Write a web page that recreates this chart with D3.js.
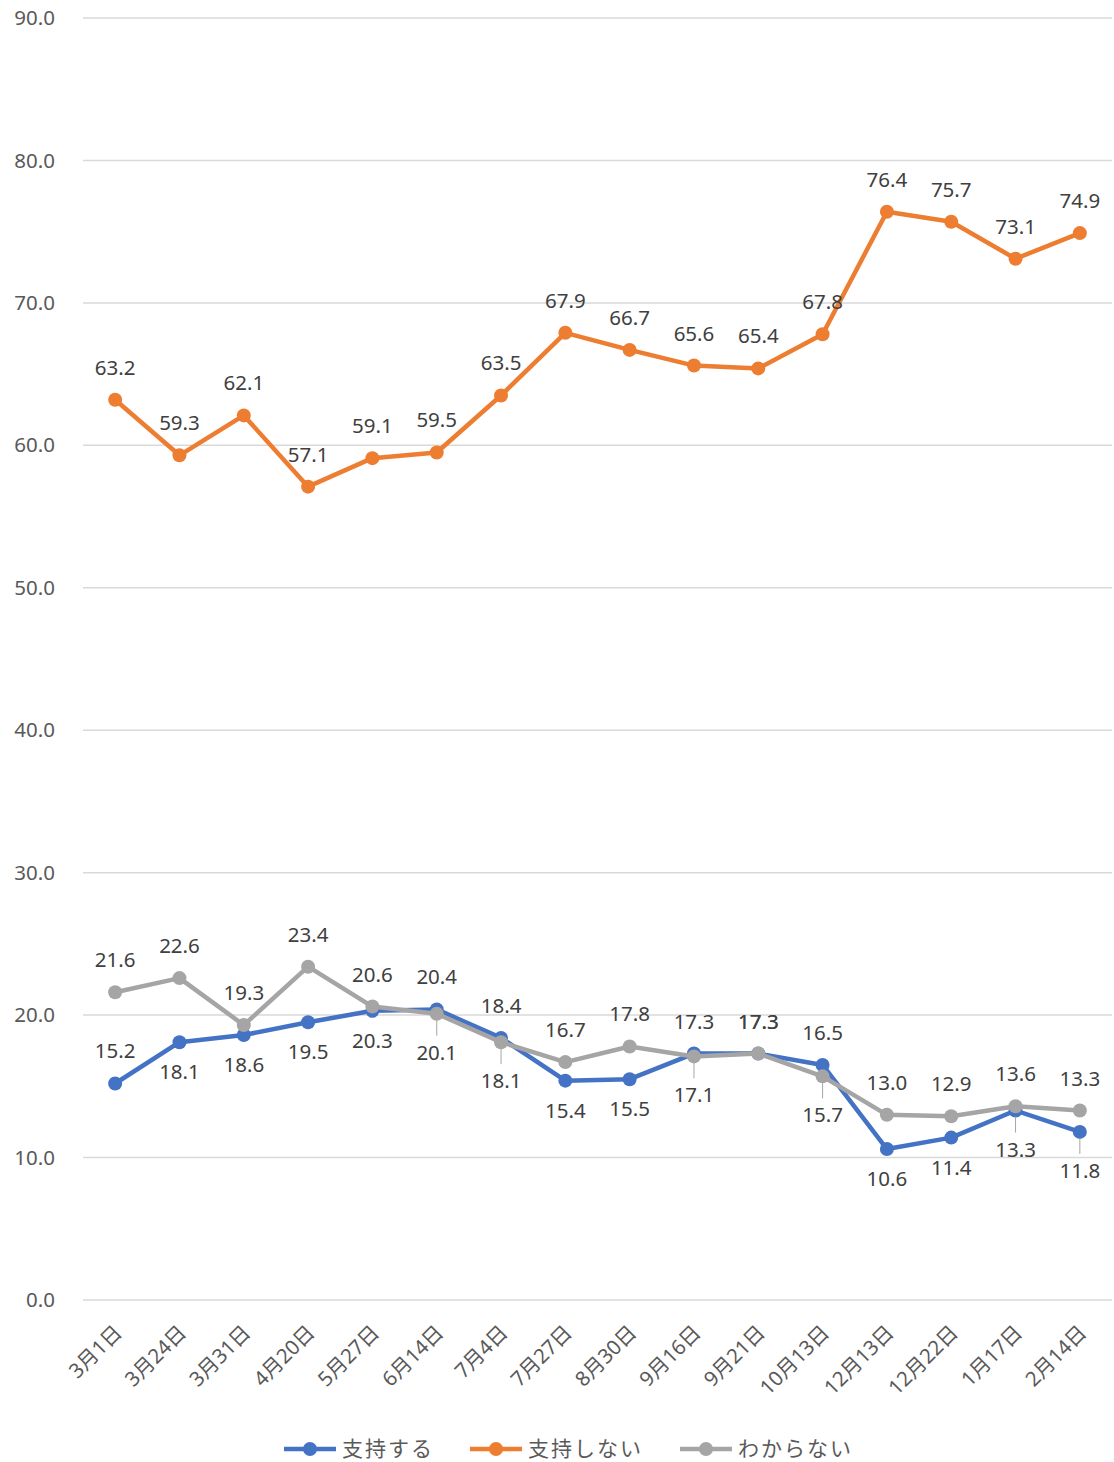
<!DOCTYPE html>
<html>
<head>
<meta charset="utf-8">
<script src="https://cdn.jsdelivr.net/npm/d3@7"></script>
<style>
  body { margin: 0; background: #fff; }
  text { font-family: "Noto Sans", "Noto Sans CJK JP", sans-serif; }
</style>
</head>
<body>
<div id="chart"></div>
<script>
// data
var dates = ["3月1日", "3月24日", "3月31日", "4月20日", "5月27日", "6月14日", "7月4日", "7月27日",
  "8月30日", "9月16日", "9月21日", "10月13日", "12月13日", "12月22日", "1月17日", "2月14日"];
var seriesNames = ["支持する", "支持しない", "わからない"];
var support = [15.2, 18.1, 18.6, 19.5, 20.3, 20.4, 18.4, 15.4, 15.5, 17.3, 17.3, 16.5, 10.6, 11.4, 13.3, 11.8];
var notSupport = [63.2, 59.3, 62.1, 57.1, 59.1, 59.5, 63.5, 67.9, 66.7, 65.6, 65.4, 67.8, 76.4, 75.7, 73.1, 74.9];
var unknown = [21.6, 22.6, 19.3, 23.4, 20.6, 20.1, 18.1, 16.7, 17.8, 17.1, 17.3, 15.7, 13.0, 12.9, 13.6, 13.3];
var yTicks = [0, 10, 20, 30, 40, 50, 60, 70, 80, 90];

// label placement: 1 = above, -1 = below (2 = below with leader line)
var supportPos = [1, -1, -1, -1, -1, 1, 1, -1, -1, 1, 1, 1, -1, -1, 2, 2];
var notSupportPos = [1, 1, 1, 1, 1, 1, 1, 1, 1, 1, 1, 1, 1, 1, 1, 1];
var unknownPos = [1, 1, 1, 1, 1, 2, 2, 1, 1, 2, 1, 2, 1, 1, 1, 1];

var colors = ["#4472C4", "#ED7D31", "#A5A5A5"];

var svgWidth = 1114;
var svgHeight = 1462;
var margin = { top: 18, right: 2, bottom: 162, left: 83 };
var width = svgWidth - margin.left - margin.right;
var height = svgHeight - margin.top - margin.bottom;

var svg = d3.select("#chart")
  .append("svg")
  .attr("width", svgWidth)
  .attr("height", svgHeight);

var chartGroup = svg.append("g")
  .attr("transform", `translate(${margin.left}, ${margin.top})`);

var xScale = d3.scaleBand()
  .domain(dates)
  .range([0, width]);

var yScale = d3.scaleLinear()
  .domain([0, 90])
  .range([height, 0]);

// gridlines
chartGroup.selectAll(".grid")
  .data(yTicks)
  .enter()
  .append("line")
  .attr("x1", 0)
  .attr("x2", width)
  .attr("y1", d => yScale(d))
  .attr("y2", d => yScale(d))
  .attr("stroke", "#d9d9d9")
  .attr("stroke-width", 1.5);

// y axis labels
var leftAxis = d3.axisLeft(yScale)
  .tickValues(yTicks)
  .tickFormat(d3.format(".1f"))
  .tickSize(0)
  .tickPadding(28);

var yAxisG = chartGroup.append("g").call(leftAxis);
yAxisG.select(".domain").remove();
yAxisG.selectAll("text")
  .attr("font-size", "20.5px")
  .attr("fill", "#595959")
  .style("font-family", "'Noto Sans', sans-serif");

// x axis labels
var bottomAxis = d3.axisBottom(xScale).tickSize(0).tickPadding(0);
var xAxisG = chartGroup.append("g")
  .attr("transform", `translate(0, ${height})`)
  .call(bottomAxis);
xAxisG.select(".domain").remove();
xAxisG.selectAll("text")
  .attr("font-size", "20.5px")
  .attr("fill", "#595959")
  .attr("text-anchor", "end")
  .attr("dy", "0")
  .attr("y", 0)
  .attr("transform", "translate(8, 34) rotate(-45)")
  .style("font-family", "'Noto Sans', 'Noto Sans CJK JP', sans-serif");

var allSeries = [
  { name: seriesNames[0], values: support, pos: supportPos, color: colors[0] },
  { name: seriesNames[1], values: notSupport, pos: notSupportPos, color: colors[1] },
  { name: seriesNames[2], values: unknown, pos: unknownPos, color: colors[2] }
];

var line = d3.line()
  .x((d, i) => xScale(dates[i]) + xScale.bandwidth() / 2)
  .y(d => yScale(d));

// draw order: support, notSupport, unknown (gray on top)
allSeries.forEach(function (s) {
  var g = chartGroup.append("g");
  g.append("path")
    .datum(s.values)
    .attr("fill", "none")
    .attr("stroke", s.color)
    .attr("stroke-width", 4.5)
    .attr("stroke-linejoin", "round")
    .attr("d", line);

  g.selectAll("circle")
    .data(s.values)
    .enter()
    .append("circle")
    .attr("cx", (d, i) => xScale(dates[i]) + xScale.bandwidth() / 2)
    .attr("cy", d => yScale(d))
    .attr("r", 7)
    .attr("fill", s.color);
});

// data labels
allSeries.forEach(function (s) {
  var g = chartGroup.append("g");
  s.values.forEach(function (v, i) {
    var cx = xScale(dates[i]) + xScale.bandwidth() / 2;
    var cy = yScale(v);
    var p = s.pos[i];
    var ty = p === 1 ? cy - 25 : (p === 2 ? cy + 46 : cy + 37);
    if (p === 2) {
      g.append("line")
        .attr("x1", cx)
        .attr("x2", cx)
        .attr("y1", cy + 6)
        .attr("y2", cy + 22)
        .attr("stroke", "#a6a6a6")
        .attr("stroke-width", 1);
    }
    g.append("text")
      .attr("x", cx)
      .attr("y", ty)
      .attr("text-anchor", "middle")
      .attr("font-size", "20.5px")
      .attr("fill", "#404040")
      .text(d3.format(".1f")(v));
  });
});

// legend
var legendX = [284, 470, 680];
var legend = svg.append("g");
allSeries.forEach(function (s, i) {
  var lg = legend.append("g")
    .attr("transform", `translate(${legendX[i]}, 1449)`);
  lg.append("line")
    .attr("x1", 0)
    .attr("x2", 52)
    .attr("stroke", s.color)
    .attr("stroke-width", 4.5);
  lg.append("circle")
    .attr("cx", 26)
    .attr("r", 7)
    .attr("fill", s.color);
  lg.append("text")
    .attr("x", 58)
    .attr("y", 7)
    .attr("font-size", "21px")
    .attr("letter-spacing", "2px")
    .attr("fill", "#595959")
    .style("font-family", "'Noto Sans CJK JP', sans-serif")
    .text(s.name);
});
</script>
</body>
</html>
